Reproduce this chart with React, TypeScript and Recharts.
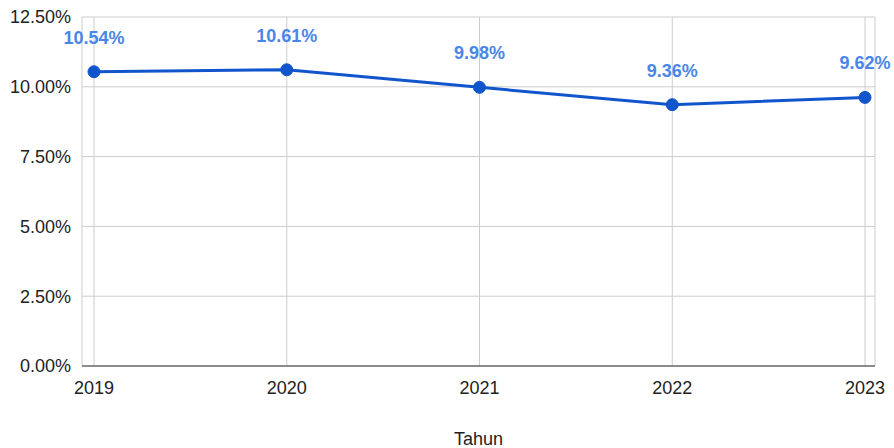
import React from 'react';
import { LineChart, Line, XAxis, YAxis, CartesianGrid, LabelList } from 'recharts';

const years = ['2019', '2020', '2021', '2022', '2023'];
const rates = [10.54, 10.61, 9.98, 9.36, 9.62];
const yTicks = [0, 2.5, 5, 7.5, 10, 12.5];

const data = years.map((y, i) => ({ year: y, rate: rates[i] }));

const FONT = '"Liberation Sans", Arial, sans-serif';

const renderLabel = (props: any) => {
  const { x, y, value } = props;
  return (
    <text
      x={x}
      y={y - 28}
      textAnchor="middle"
      fill="#4a86e8"
      fontFamily={FONT}
      fontWeight="bold"
      fontSize={18}
    >
      {Number(value).toFixed(2) + '%'}
    </text>
  );
};

export default function App() {
  return (
    <div style={{ position: 'absolute', left: 0, top: 0, background: '#fff' }}>
      <LineChart
        width={894}
        height={448}
        data={data}
        margin={{ top: 17, right: 19, left: 0, bottom: 0 }}
        style={{ fontFamily: FONT }}
      >
        <CartesianGrid stroke="#cccccc" strokeWidth={1} />
        <XAxis
          dataKey="year"
          height={82}
          padding={{ left: 12, right: 10 }}
          axisLine={{ stroke: '#333333', strokeWidth: 1 }}
          tickLine={false}
          tickSize={0}
          tickMargin={15}
          tick={{ fill: '#222222', fontSize: 18, fontFamily: FONT }}
          label={{ value: 'Tahun', position: 'insideBottom', offset: 3, fill: '#222222', fontSize: 18, fontFamily: FONT }}
        />
        <YAxis
          width={82}
          domain={[0, 12.5]}
          ticks={yTicks}
          axisLine={false}
          tickLine={false}
          tickSize={0}
          tickMargin={11}
          tick={{ fill: '#222222', fontSize: 18, fontFamily: FONT }}
          tickFormatter={(v: number) => v.toFixed(2) + '%'}
        />
        <Line
          dataKey="rate"
          stroke="#1155cc"
          strokeWidth={3}
          dot={{ r: 6, fill: '#1155cc', stroke: '#1155cc', strokeWidth: 1 }}
          isAnimationActive={false}
        >
          <LabelList dataKey="rate" content={renderLabel} />
        </Line>
      </LineChart>
    </div>
  );
}
